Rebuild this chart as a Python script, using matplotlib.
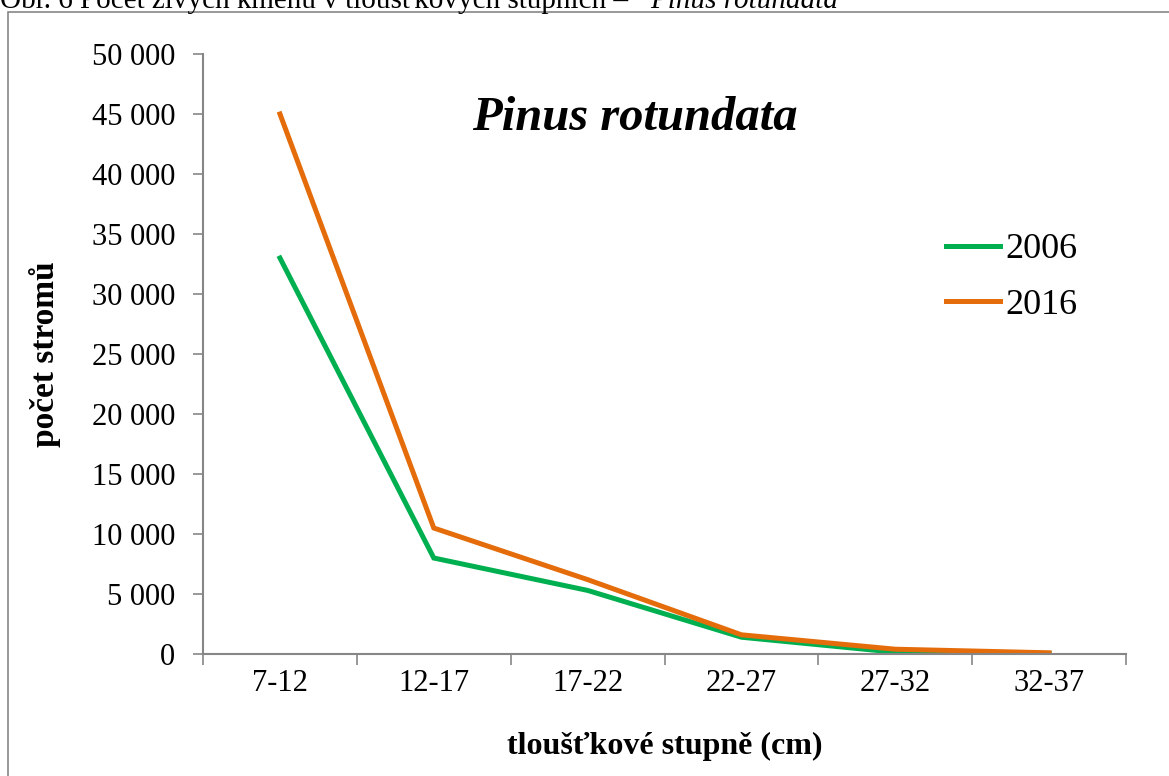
import matplotlib.pyplot as plt
import matplotlib.patches as patches
from matplotlib.ticker import FixedLocator, FuncFormatter
import numpy as np

plt.rcParams["font.family"] = ["Liberation Serif", "DejaVu Serif"]

categories = ["7-12", "12-17", "17-22", "22-27", "27-32", "32-37"]
trees_2006 = [33000, 8000, 5300, 1400, 150, 50]
trees_2016 = [45000, 10500, 6200, 1600, 400, 100]

GREEN = "#00B050"
ORANGE = "#E46C0A"
GRAY = "#868686"

fig = plt.figure(figsize=(11.69, 7.76), dpi=100)
ax = fig.add_axes([0.1737, 0.1572, 0.7895, 0.7732])

x = np.arange(len(categories))
ax.plot(x, trees_2006, color=GREEN, lw=3.6, label="2006", solid_joinstyle="miter")
ax.plot(x, trees_2016, color=ORANGE, lw=3.6, label="2016", solid_joinstyle="miter")

ax.set_xlim(-0.5, len(categories) - 0.5)
ax.set_ylim(0, 50000)
ax.set_yticks(np.arange(0, 50001, 5000))
ax.yaxis.set_major_formatter(FuncFormatter(lambda v, p: f"{int(v):,}".replace(",", " ")))

ax.xaxis.set_major_locator(FixedLocator(np.arange(-0.5, len(categories), 1.0)))
ax.xaxis.set_major_formatter(FuncFormatter(lambda v, p: ""))
ax.xaxis.set_minor_locator(FixedLocator(x))
ax.set_xticklabels(categories, minor=True)
ax.tick_params(axis="x", which="major", length=8, width=1.2, color=GRAY, direction="out")
ax.tick_params(axis="x", which="minor", length=0, labelsize=22, pad=11)
ax.tick_params(axis="y", which="major", length=7, width=1.2, color=GRAY, labelsize=22, pad=13)

for s in ["top", "right"]:
    ax.spines[s].set_visible(False)
for s in ["left", "bottom"]:
    ax.spines[s].set_color(GRAY)
    ax.spines[s].set_linewidth(1.5)

ax.set_xlabel("tloušťkové stupně (cm)", fontsize=23, fontweight="bold", labelpad=24)
ax.set_ylabel("počet stromů", fontsize=24, fontweight="bold", labelpad=22)

ax.text(0.468, 0.893, "Pinus rotundata", transform=ax.transAxes, fontsize=35,
        fontweight="bold", fontstyle="italic", ha="center", va="center")

ax.legend(loc="upper left", bbox_to_anchor=(946 / 1169, 1 - 233 / 776),
          bbox_transform=fig.transFigure, frameon=False, fontsize=26,
          borderpad=0, borderaxespad=0, handlelength=1.5, handletextpad=0.14,
          labelspacing=0.62)

# outer chart frame
fig.patches.append(patches.Rectangle((8 / 1169, -0.01), 1.02, 1 - 12 / 776 + 0.01,
                                     transform=fig.transFigure, fill=False,
                                     edgecolor=GRAY, lw=1.2, clip_on=False))

# clipped caption at the top
fig.text(0.0, 1 - 8 / 776, "Obr. 6 Počet živých kmenů v tloušťkových stupních – ",
         fontsize=21, va="baseline", ha="left")
fig.text(650 / 1169, 1 - 8 / 776, "Pinus rotundata", fontsize=21, fontstyle="italic",
         va="baseline", ha="left")

fig.savefig("out.png", dpi=100)
